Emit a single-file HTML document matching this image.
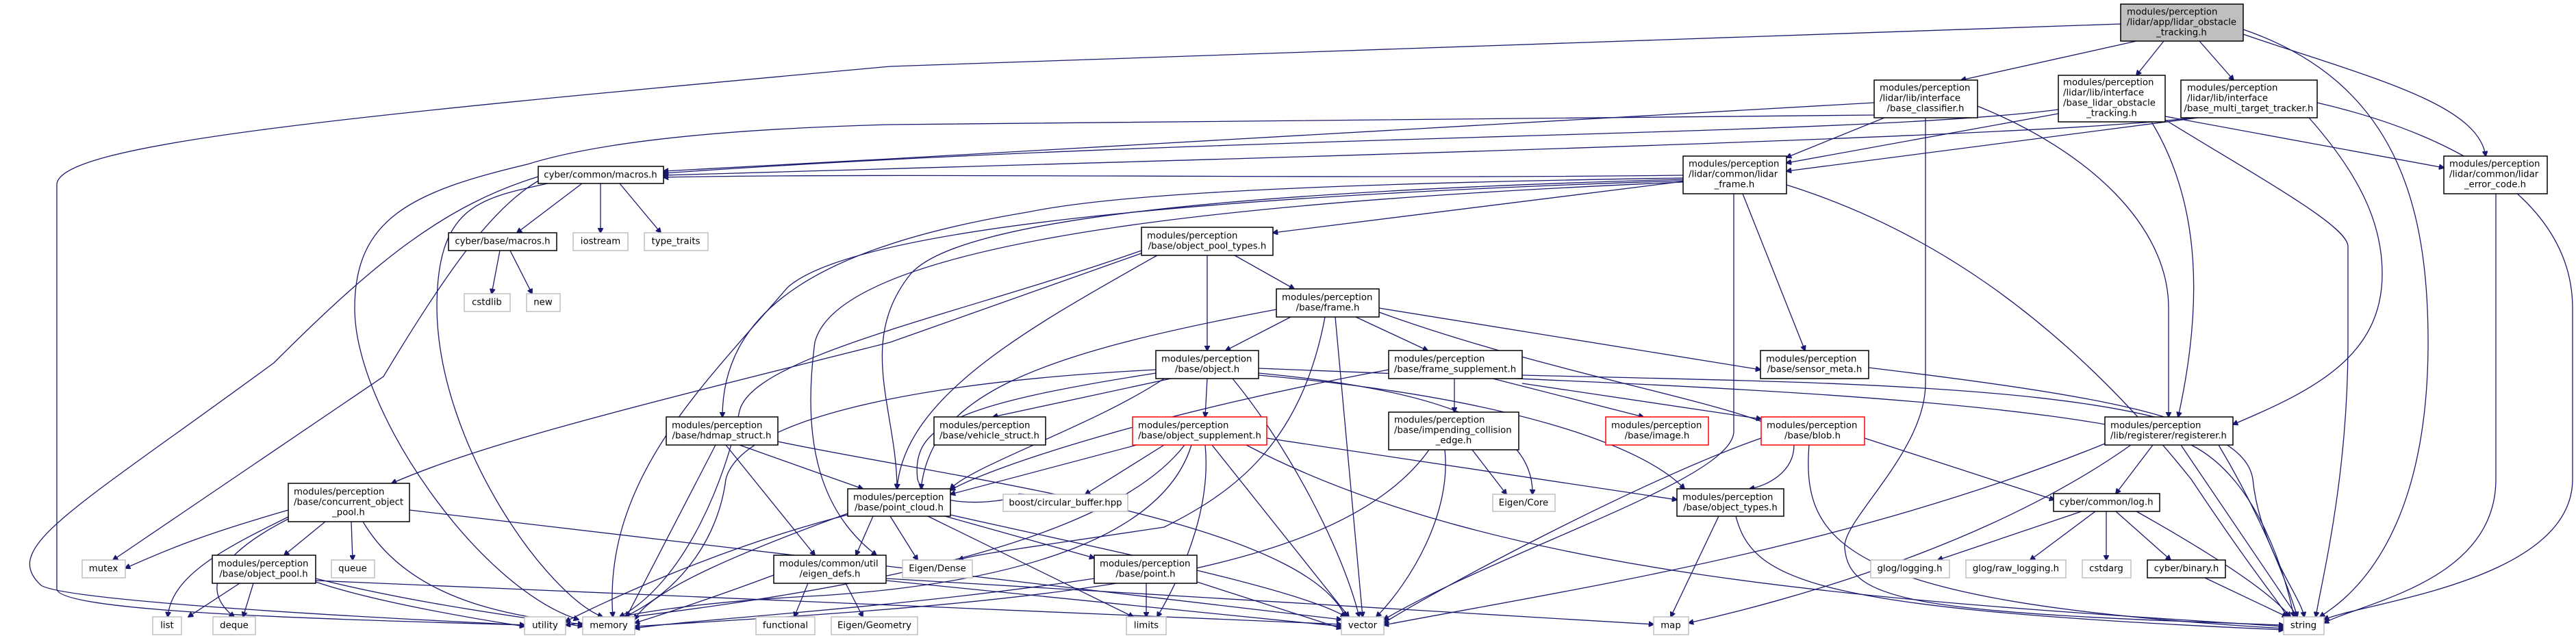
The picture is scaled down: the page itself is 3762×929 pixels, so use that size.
<!DOCTYPE html>
<html><head><meta charset="utf-8"><style>
html,body{margin:0;padding:0;background:#fff}
svg{display:block}
text{font-family:"DejaVu Sans","Liberation Sans",sans-serif;font-size:13.3px;fill:#000}
.b{fill:#fff;stroke:#000;stroke-width:1.5}
.g{fill:#fff;stroke:#bfbfbf;stroke-width:1.5}
.r{fill:#fff;stroke:#ff0000;stroke-width:1.5}
.root{fill:#bfbfbf;stroke:#000;stroke-width:1.5}
path{fill:none;stroke:#191970;stroke-width:1.3}
</style></head><body>
<svg width="3762" height="929" viewBox="0 0 3762 929" xmlns="http://www.w3.org/2000/svg">
<defs><marker id="a" viewBox="0 0 10 10" refX="9" refY="5" markerWidth="8" markerHeight="8" orient="auto" markerUnits="userSpaceOnUse"><path d="M0,0L10,5L0,10z" style="fill:#191970;stroke:#191970"/></marker></defs>
<g marker-end="url(#a)">
<!-- root -->
<path d="M3120,60L2864,117"/>
<path d="M3160,60L3120,110"/>
<path d="M3212,60L3262,117"/>
<path d="M3276,50C3450,110 3620,150 3630,228"/>
<path d="M3276,43C3500,120 3546,300 3546,500C3546,800 3420,880 3388,901"/>
<path d="M3097,35L1300,97C500,170 83,210 83,270L83,860C83,895 500,905 766,913"/>
<!-- classifier -->
<path d="M2737,150L1300,232L969,250"/>
<path d="M2752,172L2609,230"/>
<path d="M2812,172L2812,560C2812,660 2690,760 2694,800C2700,880 2800,895 3335,913"/>
<path d="M2888,155C3050,220 3167,330 3167,450L3167,609"/>
<path d="M2740,168L1300,182C1000,190 850,215 770,240C600,280 518,320 518,450C518,600 700,860 845,905"/>
<!-- blot -->
<path d="M3006,160C2700,200 1800,195 969,253"/>
<path d="M3006,166L2609,238"/>
<path d="M3162,170L3569,245"/>
<path d="M3142,178C3216,300 3216,450 3181,609"/>
<path d="M3162,175C3300,260 3429,330 3429,360L3429,500C3429,700 3390,850 3382,901"/>
<!-- mtt -->
<path d="M3200,172C3000,200 1800,232 969,256"/>
<path d="M3210,172L2609,250"/>
<path d="M3372,172C3450,260 3479,330 3479,400C3479,520 3380,570 3261,620"/>
<path d="M3384,150C3600,200 3757,300 3757,450L3757,700C3757,850 3450,880 3394,905"/>
<path d="M3645,283L3645,700C3645,850 3450,880 3394,910"/>
<!-- lidar_frame -->
<path d="M2458,265L1859,340"/>
<path d="M2458,256C2000,262 1300,252 969,259"/>
<path d="M2458,260C1800,270 1600,290 1500,310C1200,360 1055,450 1055,609"/>
<path d="M2458,262C1800,280 1400,320 1330,400C1250,500 1310,600 1310,714"/>
<path d="M2458,264C1800,285 1250,330 1150,420C1030,560 880,700 895,901"/>
<path d="M2545,283L2636,512"/>
<path d="M2609,270C2800,330 3000,450 3200,700C3300,850 3330,880 3340,901"/>
<path d="M2532,283L2532,630C2532,700 2200,800 2021,905"/>
<path d="M2458,266C1900,290 1230,340 1190,500C1170,650 1200,750 1280,811"/>
<!-- cmacros -->
<path d="M850,268L755,340"/>
<path d="M877,268L877,340"/>
<path d="M905,268L965,340"/>
<path d="M790,262C720,300 650,400 560,550L165,818"/>
<path d="M800,268C700,290 638,300 638,450C640,650 800,870 880,901"/>
<path d="M786,258C650,300 550,380 400,530C100,750 0,800 60,855C100,880 600,905 766,913"/>
<!-- bmacros -->
<path d="M730,366L718,429"/>
<path d="M745,366L777,429"/>
<!-- opt -->
<path d="M1763,373L1763,512"/>
<path d="M1803,373L1890,422"/>
<path d="M1690,373C1500,480 1320,580 1310,714"/>
<path d="M1667,370L1300,500C900,600 700,650 572,706"/>
<path d="M1667,366C1400,460 1100,520 1080,600C1060,700 1000,850 905,901"/>
<!-- frame -->
<path d="M1885,463L1790,512"/>
<path d="M1980,463L2085,512"/>
<path d="M2014,450L2571,540"/>
<path d="M2014,456C2300,560 2620,600 2620,650C2620,690 2580,710 2555,714"/>
<path d="M1950,463L1990,901"/>
<path d="M1935,463C1900,650 1800,720 1700,770C1500,800 1420,810 1400,818"/>
<path d="M1864,452C1500,520 1360,580 1345,714"/>
<!-- fsup -->
<path d="M2124,553L2124,602"/>
<path d="M2180,553L2400,609"/>
<path d="M2223,560L2572,612"/>
<path d="M2028,540C1700,600 1450,680 1388,716"/>
<path d="M2223,548C2700,560 3270,560 3290,700C3300,800 3360,870 3365,901"/>
<!-- object -->
<path d="M1710,553L1450,609"/>
<path d="M1763,553L1760,609"/>
<path d="M1700,553C1600,620 1420,680 1388,714"/>
<path d="M1688,545C1400,590 1330,620 1340,700C1350,740 1450,740 1495,722"/>
<path d="M1800,553C1880,650 1960,800 1985,901"/>
<path d="M1688,540C1300,560 1080,620 1060,700C1050,780 1000,860 912,901"/>
<path d="M1838,548C2200,580 2400,650 2460,714"/>
<path d="M1838,545C2100,570 2240,620 2238,722"/>
<path d="M1838,538C2400,560 3000,580 3200,650C3300,700 3340,850 3350,901"/>
<!-- osup -->
<path d="M1660,650L1388,722"/>
<path d="M1700,650L1585,722"/>
<path d="M1850,640L2449,730"/>
<path d="M1770,650L1970,901"/>
<path d="M1760,650C1770,750 1720,850 1690,901"/>
<path d="M1740,650C1700,780 1500,850 1200,870C1000,880 900,900 860,912"/>
<path d="M1730,650C1600,820 1100,880 826,913"/>
<path d="M1820,650C2200,850 2800,880 3335,915"/>
<!-- ice -->
<path d="M2150,657L2200,722"/>
<path d="M2110,657C2120,750 2060,850 2010,901"/>
<path d="M2087,657C1950,850 1500,880 927,915"/>
<!-- blob -->
<path d="M2723,640L3000,730"/>
<path d="M2642,650C2630,800 2700,880 3335,918"/>
<path d="M2572,640C2400,700 2100,860 2021,910"/>
<!-- registerer -->
<path d="M3144,650L3090,721"/>
<path d="M3185,650L3355,901"/>
<path d="M3074,648C2700,800 2300,860 2021,913"/>
<path d="M3112,650C2900,800 2600,880 2466,910"/>
<!-- log -->
<path d="M3040,747L2830,818"/>
<path d="M3060,747L2965,818"/>
<path d="M3076,747L3076,818"/>
<path d="M3090,747L3170,818"/>
<path d="M3120,747C3250,820 3320,870 3345,901"/>
<path d="M3220,844L3340,901"/>
<!-- otypes -->
<path d="M2510,754L2440,901"/>
<path d="M2535,754C2560,850 2650,890 3335,920"/>
<path d="M2729,537C3000,570 3200,600 3240,650C3300,750 3340,850 3355,901"/>
<!-- hdmap -->
<path d="M1045,650L915,901"/>
<path d="M1080,650L1260,714"/>
<path d="M1060,650L1190,811"/>
<path d="M1136,645C1400,700 1900,760 1965,901"/>
<!-- cop -->
<path d="M421,745C300,780 250,800 183,830"/>
<path d="M475,762L415,811"/>
<path d="M513,762L515,818"/>
<path d="M421,755C330,800 250,840 245,901"/>
<path d="M421,758C320,810 290,860 342,901"/>
<path d="M530,762C600,880 750,900 851,912"/>
<path d="M598,745L1959,905"/>
<!-- opool -->
<path d="M350,852L275,901"/>
<path d="M370,852L355,901"/>
<path d="M461,845C600,880 750,900 851,915"/>
<path d="M461,848L1959,912"/>
<path d="M461,850C550,880 700,905 766,915"/>
<!-- pc -->
<path d="M1275,754L1250,811"/>
<path d="M1300,754L1340,818"/>
<path d="M1380,754L1598,815"/>
<path d="M1238,750C1100,800 950,860 927,905"/>
<path d="M1238,752C1050,800 880,880 826,908"/>
<path d="M1388,752C1600,800 1900,860 1965,901"/>
<path d="M1355,754L1655,901"/>
<!-- eigendefs -->
<path d="M1180,852L1160,901"/>
<path d="M1235,852L1260,901"/>
<path d="M1130,840C1050,870 960,900 927,910"/>
<path d="M1294,848L1959,915"/>
<path d="M1294,845L2415,912"/>
<!-- point -->
<path d="M1674,852L1674,901"/>
<path d="M1748,850L1959,918"/>
<path d="M1598,845C1300,890 1000,905 927,918"/>
</g>
<!-- nodes -->
<rect class="root" x="3097" y="6" width="179" height="54"/><text x="3106" y="18" dominant-baseline="central">modules/perception</text><text x="3106" y="33" dominant-baseline="central">/lidar/app/lidar_obstacle</text><text x="3186" y="48" text-anchor="middle" dominant-baseline="central">_tracking.h</text>
<rect class="b" x="2737" y="117" width="151" height="55"/><text x="2745" y="129" dominant-baseline="central">modules/perception</text><text x="2745" y="144" dominant-baseline="central">/lidar/lib/interface</text><text x="2812" y="159" text-anchor="middle" dominant-baseline="central">/base_classifier.h</text>
<rect class="b" x="3006" y="110" width="156" height="68"/><text x="3013" y="121" dominant-baseline="central">modules/perception</text><text x="3013" y="136" dominant-baseline="central">/lidar/lib/interface</text><text x="3013" y="151" dominant-baseline="central">/base_lidar_obstacle</text><text x="3084" y="166" text-anchor="middle" dominant-baseline="central">_tracking.h</text>
<rect class="b" x="3185" y="117" width="199" height="55"/><text x="3194" y="129" dominant-baseline="central">modules/perception</text><text x="3194" y="144" dominant-baseline="central">/lidar/lib/interface</text><text x="3284" y="159" text-anchor="middle" dominant-baseline="central">/base_multi_target_tracker.h</text>
<rect class="b" x="2458" y="228" width="151" height="55"/><text x="2466" y="240" dominant-baseline="central">modules/perception</text><text x="2466" y="255" dominant-baseline="central">/lidar/common/lidar</text><text x="2533" y="270" text-anchor="middle" dominant-baseline="central">_frame.h</text>
<rect class="b" x="3569" y="228" width="151" height="55"/><text x="3577" y="240" dominant-baseline="central">modules/perception</text><text x="3577" y="255" dominant-baseline="central">/lidar/common/lidar</text><text x="3644" y="270" text-anchor="middle" dominant-baseline="central">_error_code.h</text>
<rect class="b" x="786" y="243" width="183" height="25"/><text x="877" y="256" text-anchor="middle" dominant-baseline="central">cyber/common/macros.h</text>
<rect class="b" x="655" y="340" width="158" height="26"/><text x="734" y="353" text-anchor="middle" dominant-baseline="central">cyber/base/macros.h</text>
<rect class="g" x="837" y="340" width="80" height="26"/><text x="877" y="353" text-anchor="middle" dominant-baseline="central">iostream</text>
<rect class="g" x="941" y="340" width="93" height="26"/><text x="987" y="353" text-anchor="middle" dominant-baseline="central">type_traits</text>
<rect class="g" x="678" y="429" width="67" height="26"/><text x="711" y="442" text-anchor="middle" dominant-baseline="central">cstdlib</text>
<rect class="g" x="769" y="429" width="49" height="26"/><text x="793" y="442" text-anchor="middle" dominant-baseline="central">new</text>
<rect class="b" x="1667" y="332" width="192" height="41"/><text x="1675" y="345" dominant-baseline="central">modules/perception</text><text x="1763" y="360" text-anchor="middle" dominant-baseline="central">/base/object_pool_types.h</text>
<rect class="b" x="1864" y="422" width="150" height="41"/><text x="1872" y="435" dominant-baseline="central">modules/perception</text><text x="1939" y="450" text-anchor="middle" dominant-baseline="central">/base/frame.h</text>
<rect class="b" x="1688" y="512" width="150" height="41"/><text x="1696" y="525" dominant-baseline="central">modules/perception</text><text x="1763" y="540" text-anchor="middle" dominant-baseline="central">/base/object.h</text>
<rect class="b" x="2028" y="512" width="195" height="41"/><text x="2036" y="525" dominant-baseline="central">modules/perception</text><text x="2125" y="540" text-anchor="middle" dominant-baseline="central">/base/frame_supplement.h</text>
<rect class="b" x="2571" y="512" width="158" height="41"/><text x="2579" y="525" dominant-baseline="central">modules/perception</text><text x="2650" y="540" text-anchor="middle" dominant-baseline="central">/base/sensor_meta.h</text>
<rect class="b" x="973" y="609" width="163" height="41"/><text x="981" y="622" dominant-baseline="central">modules/perception</text><text x="1054" y="637" text-anchor="middle" dominant-baseline="central">/base/hdmap_struct.h</text>
<rect class="b" x="1364" y="609" width="163" height="41"/><text x="1372" y="622" dominant-baseline="central">modules/perception</text><text x="1445" y="637" text-anchor="middle" dominant-baseline="central">/base/vehicle_struct.h</text>
<rect class="r" x="1654" y="609" width="196" height="41"/><text x="1662" y="622" dominant-baseline="central">modules/perception</text><text x="1752" y="637" text-anchor="middle" dominant-baseline="central">/base/object_supplement.h</text>
<rect class="b" x="2028" y="602" width="190" height="55"/><text x="2036" y="614" dominant-baseline="central">modules/perception</text><text x="2036" y="629" dominant-baseline="central">/base/impending_collision</text><text x="2123" y="644" text-anchor="middle" dominant-baseline="central">_edge.h</text>
<rect class="r" x="2345" y="609" width="150" height="41"/><text x="2353" y="622" dominant-baseline="central">modules/perception</text><text x="2420" y="637" text-anchor="middle" dominant-baseline="central">/base/image.h</text>
<rect class="r" x="2572" y="609" width="151" height="41"/><text x="2580" y="622" dominant-baseline="central">modules/perception</text><text x="2647" y="637" text-anchor="middle" dominant-baseline="central">/base/blob.h</text>
<rect class="b" x="3074" y="609" width="187" height="41"/><text x="3082" y="622" dominant-baseline="central">modules/perception</text><text x="3167" y="637" text-anchor="middle" dominant-baseline="central">/lib/registerer/registerer.h</text>
<rect class="b" x="421" y="706" width="177" height="56"/><text x="429" y="719" dominant-baseline="central">modules/perception</text><text x="429" y="734" dominant-baseline="central">/base/concurrent_object</text><text x="509" y="749" text-anchor="middle" dominant-baseline="central">_pool.h</text>
<rect class="b" x="1238" y="714" width="150" height="40"/><text x="1246" y="727" dominant-baseline="central">modules/perception</text><text x="1313" y="742" text-anchor="middle" dominant-baseline="central">/base/point_cloud.h</text>
<rect class="g" x="1465" y="722" width="182" height="25"/><text x="1556" y="735" text-anchor="middle" dominant-baseline="central">boost/circular_buffer.hpp</text>
<rect class="g" x="2180" y="722" width="91" height="25"/><text x="2225" y="735" text-anchor="middle" dominant-baseline="central">Eigen/Core</text>
<rect class="b" x="2449" y="714" width="156" height="40"/><text x="2457" y="727" dominant-baseline="central">modules/perception</text><text x="2527" y="742" text-anchor="middle" dominant-baseline="central">/base/object_types.h</text>
<rect class="b" x="2999" y="721" width="155" height="26"/><text x="3076" y="734" text-anchor="middle" dominant-baseline="central">cyber/common/log.h</text>
<rect class="g" x="120" y="818" width="63" height="26"/><text x="151" y="831" text-anchor="middle" dominant-baseline="central">mutex</text>
<rect class="b" x="310" y="811" width="151" height="41"/><text x="318" y="824" dominant-baseline="central">modules/perception</text><text x="385" y="839" text-anchor="middle" dominant-baseline="central">/base/object_pool.h</text>
<rect class="g" x="484" y="818" width="63" height="26"/><text x="515" y="831" text-anchor="middle" dominant-baseline="central">queue</text>
<rect class="b" x="1130" y="811" width="164" height="41"/><text x="1138" y="824" dominant-baseline="central">modules/common/util</text><text x="1212" y="839" text-anchor="middle" dominant-baseline="central">/eigen_defs.h</text>
<rect class="g" x="1318" y="818" width="102" height="26"/><text x="1369" y="831" text-anchor="middle" dominant-baseline="central">Eigen/Dense</text>
<rect class="b" x="1598" y="811" width="150" height="41"/><text x="1606" y="824" dominant-baseline="central">modules/perception</text><text x="1673" y="839" text-anchor="middle" dominant-baseline="central">/base/point.h</text>
<rect class="g" x="2732" y="818" width="115" height="26"/><text x="2789" y="831" text-anchor="middle" dominant-baseline="central">glog/logging.h</text>
<rect class="g" x="2871" y="818" width="146" height="26"/><text x="2944" y="831" text-anchor="middle" dominant-baseline="central">glog/raw_logging.h</text>
<rect class="g" x="3041" y="818" width="71" height="26"/><text x="3076" y="831" text-anchor="middle" dominant-baseline="central">cstdarg</text>
<rect class="b" x="3136" y="818" width="114" height="26"/><text x="3193" y="831" text-anchor="middle" dominant-baseline="central">cyber/binary.h</text>
<rect class="g" x="223" y="901" width="42" height="26"/><text x="244" y="914" text-anchor="middle" dominant-baseline="central">list</text>
<rect class="g" x="311" y="901" width="62" height="26"/><text x="342" y="914" text-anchor="middle" dominant-baseline="central">deque</text>
<rect class="g" x="766" y="901" width="60" height="26"/><text x="796" y="914" text-anchor="middle" dominant-baseline="central">utility</text>
<rect class="g" x="851" y="901" width="76" height="26"/><text x="889" y="914" text-anchor="middle" dominant-baseline="central">memory</text>
<rect class="g" x="1104" y="901" width="86" height="26"/><text x="1147" y="914" text-anchor="middle" dominant-baseline="central">functional</text>
<rect class="g" x="1214" y="901" width="126" height="26"/><text x="1277" y="914" text-anchor="middle" dominant-baseline="central">Eigen/Geometry</text>
<rect class="g" x="1645" y="901" width="58" height="26"/><text x="1674" y="914" text-anchor="middle" dominant-baseline="central">limits</text>
<rect class="g" x="1959" y="901" width="62" height="26"/><text x="1990" y="914" text-anchor="middle" dominant-baseline="central">vector</text>
<rect class="g" x="2415" y="901" width="51" height="26"/><text x="2440" y="914" text-anchor="middle" dominant-baseline="central">map</text>
<rect class="g" x="3335" y="901" width="59" height="26"/><text x="3364" y="914" text-anchor="middle" dominant-baseline="central">string</text>
</svg>
</body></html>
